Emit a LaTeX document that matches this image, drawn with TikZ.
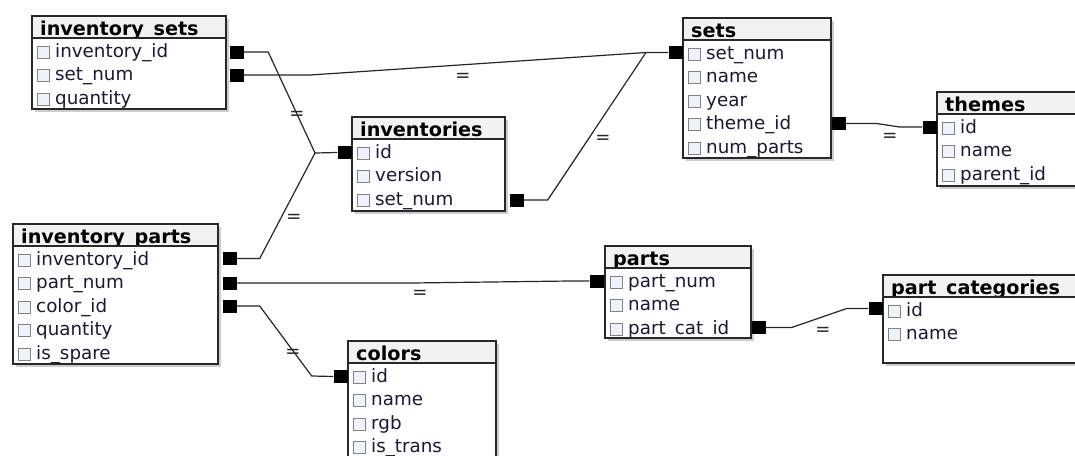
\documentclass[tikz,border=0pt]{standalone}
\usepackage{fontspec}
\setmainfont{DejaVu Sans}
\definecolor{txt}{RGB}{25,25,55}
\definecolor{hdr}{RGB}{242,242,242}
\definecolor{brd}{RGB}{40,40,40}
\definecolor{shd}{RGB}{205,205,205}
\definecolor{cbf}{RGB}{236,243,250}
\definecolor{cbd}{RGB}{130,130,130}
\tikzset{
  boxbg/.style={fill=white, draw=none, inner sep=0, anchor=north west},
  border/.style={draw=brd, line width=1.8pt},
  cbox/.style={draw=cbd, fill=cbf, line width=0.9pt, minimum width=12pt, minimum height=12pt, inner sep=0},
  rowtxt/.style={text=txt, font=\fontsize{18.3}{20}\selectfont, inner sep=0, anchor=base west},
  ttl/.style={text=black, font=\bfseries\fontsize{19.2}{21}\selectfont, inner sep=0, anchor=base west},
  keysq/.style={fill=black, draw=none, minimum width=14pt, minimum height=13pt, inner sep=0},
  rel/.style={draw=black!85, line width=1.2pt},
  eqlbl/.style={font=\fontsize{18}{20}\selectfont, text=black!85, inner sep=0},
}
\newcommand{\erbox}[7]{%
  \pgfmathsetmacro{\bw}{#4-#2}\pgfmathsetmacro{\bh}{#5-#3}%
  \fill[shd] (#2+3,#3+3) rectangle (#4+3,#5+3);
  \node[boxbg, minimum width=\bw pt, minimum height=\bh pt] (#1) at (#2,#3) {};
  \fill[hdr] (#2,#3) rectangle (#4,#3+22);
  \begin{scope}
    \clip (#2,#3) rectangle (#4,#3+20.6);
    \node[ttl] (#1-title) at (#2+8,#3+19.6) {#6};
  \end{scope}
  \foreach \t [count=\i] in {#7} {
    \node[cbox] (#1-cb\i) at (#2+11.5,{#3+36+(\i-1)*23.4+0.5}) {};
    \node[rowtxt] (#1-r\i) at (#2+23,{#3+36+(\i-1)*23.4+5.5}) {\t};
  }
  \draw[border] (#2,#3) rectangle (#4,#5);
  \draw[border] (#2,#3+22) -- (#4,#3+22);
}
\begin{document}
\begin{tikzpicture}[x=1pt,y=-1pt]
\path[use as bounding box] (0,0) rectangle (1075,455);
\clip (0,0) rectangle (1075,455);
\fill[white] (0,0) rectangle (1075,455);

\erbox{invsets}{32}{16}{226}{109}{inventory\_sets}{inventory\_id,set\_num,quantity}
\erbox{sets}{683}{18}{831}{158}{sets}{set\_num,name,year,theme\_id,num\_parts}
\erbox{themes}{937}{92}{1100}{186}{themes}{id,name,parent\_id}
\erbox{inventories}{352}{117}{505}{211}{inventories}{id,version,set\_num}
\erbox{invparts}{13}{224}{218}{364}{inventory\_parts}{inventory\_id,part\_num,color\_id,quantity,is\_spare}
\erbox{parts}{605}{246}{751}{338}{parts}{part\_num,name,part\_cat\_id}
\erbox{partcat}{883}{275}{1100}{363}{part\_categories}{id,name}
\erbox{colors}{348}{341}{496}{470}{colors}{id,name,rgb,is\_trans}

% key squares
\node[keysq] (is1) at (237,52) {};
\node[keysq] (is2) at (237,75) {};
\node[keysq] (invid) at (344.5,152.5) {};
\node[keysq] (invset) at (516.5,200) {};
\node[keysq] (setsset) at (675.5,52.5) {};
\node[keysq] (setstheme) at (838.5,123.5) {};
\node[keysq] (themesid) at (929.5,127) {};
\node[keysq] (ip1) at (229.5,258.5) {};
\node[keysq] (ip2) at (229.5,283) {};
\node[keysq] (ip3) at (229.5,306) {};
\node[keysq] (partspn) at (596.5,281) {};
\node[keysq] (partscat) at (758.5,327.5) {};
\node[keysq] (pcid) at (875.5,308.5) {};
\node[keysq] (colid) at (340.5,376.5) {};

\coordinate (j1) at (315,153);
\coordinate (j2) at (646,52.5);

\draw[rel] (is1.east) -- ++(24,0) -- (j1) -- (invid.west);
\draw[rel] (ip1.east) -- ++(23,0) -- (j1);
\draw[rel] (is2.east) -- ++(66,0) -- (j2) -- (setsset.west);
\draw[rel] (invset.east) -- ++(24,0) -- (j2);
\draw[rel] (setstheme.east) -- ++(31,0) -- ++(23,3.5) -- (themesid.west);
\draw[rel] (ip2.east) -- ++(175,0) -- ++(158,-2) -- (partspn.west);
\draw[rel] (partscat.east) -- ++(26,0) -- ++(55,-19) -- (pcid.west);
\draw[rel] (ip3.east) -- ++(23,0) -- ++(52,70) -- (colid.west);

\node[eqlbl] (e1) at (297,115) {=};
\node[eqlbl] (e2) at (294,218) {=};
\node[eqlbl] (e3) at (463,77) {=};
\node[eqlbl] (e4) at (603,139) {=};
\node[eqlbl] (e5) at (890,137) {=};
\node[eqlbl] (e6) at (420,294) {=};
\node[eqlbl] (e7) at (823,331) {=};
\node[eqlbl] (e8) at (293,353) {=};
\end{tikzpicture}
\end{document}
